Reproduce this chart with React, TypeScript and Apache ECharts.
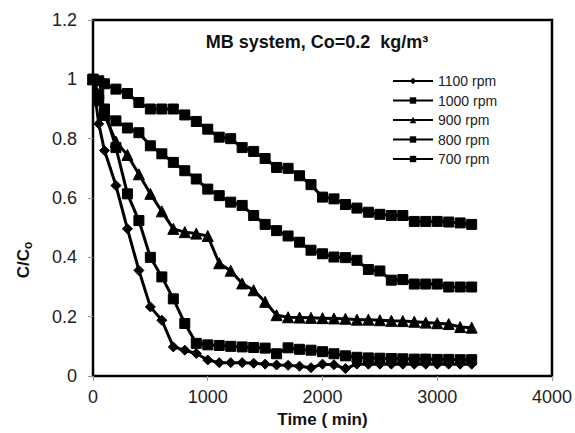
import React, { useEffect, useRef } from "react";
import * as echarts from "echarts";

const times = [0, 50, 100, 200, 300, 400, 500, 600, 700, 800, 900, 1000, 1100, 1200, 1300, 1400, 1500, 1600, 1700, 1800, 1900, 2000, 2100, 2200, 2300, 2400, 2500, 2600, 2700, 2800, 2900, 3000, 3100, 3200, 3300];

const rpm1100 = [1.0, 0.85, 0.76, 0.642, 0.496, 0.356, 0.233, 0.188, 0.098, 0.087, 0.076, 0.054, 0.045, 0.045, 0.045, 0.043, 0.04, 0.037, 0.036, 0.033, 0.028, 0.04, 0.038, 0.025, 0.04, 0.04, 0.04, 0.04, 0.04, 0.04, 0.04, 0.04, 0.04, 0.04, 0.04];
const rpm1000 = [1.0, 0.95, 0.9, 0.77, 0.614, 0.524, 0.4, 0.334, 0.26, 0.177, 0.11, 0.105, 0.103, 0.1, 0.098, 0.096, 0.094, 0.075, 0.095, 0.09, 0.087, 0.082, 0.075, 0.068, 0.063, 0.061, 0.06, 0.059, 0.058, 0.057, 0.057, 0.056, 0.056, 0.055, 0.055];
const rpm900 = [1.0, 0.93, 0.88, 0.79, 0.745, 0.68, 0.614, 0.555, 0.496, 0.485, 0.48, 0.472, 0.38, 0.355, 0.312, 0.289, 0.25, 0.205, 0.198, 0.197, 0.196, 0.195, 0.194, 0.193, 0.19, 0.19, 0.188, 0.186, 0.185, 0.183, 0.18, 0.178, 0.175, 0.165, 0.163];
const rpm800 = [1.0, 0.93, 0.885, 0.86, 0.836, 0.82, 0.776, 0.749, 0.72, 0.692, 0.664, 0.63, 0.608, 0.586, 0.575, 0.541, 0.511, 0.49, 0.472, 0.451, 0.424, 0.412, 0.401, 0.399, 0.39, 0.359, 0.354, 0.323, 0.325, 0.31, 0.31, 0.31, 0.3, 0.3, 0.3];
const rpm700 = [1.0, 0.995, 0.985, 0.967, 0.952, 0.922, 0.9, 0.9, 0.9, 0.88, 0.858, 0.832, 0.805, 0.8, 0.77, 0.757, 0.733, 0.703, 0.7, 0.675, 0.645, 0.603, 0.597, 0.578, 0.566, 0.552, 0.545, 0.541, 0.541, 0.521, 0.521, 0.521, 0.519, 0.516, 0.511];

const seriesNames = ["1100 rpm", "1000 rpm", "900 rpm", "800 rpm", "700 rpm"];
const seriesValues = [rpm1100, rpm1000, rpm900, rpm800, rpm700];
const seriesSymbols = ["diamond", "rect", "triangle", "rect", "rect"];
const seriesSymbolSizes = [10, 10, 11, 10, 10];

const FONT = "'Liberation Sans', Arial, sans-serif";

export default function App() {
  const ref = useRef<HTMLDivElement>(null);
  useEffect(() => {
    if (!ref.current) return;
    const chart = echarts.init(ref.current, undefined, { renderer: "svg" });
    chart.setOption({
      animation: false,
      backgroundColor: "#fff",
      grid: {
        left: 93,
        right: 22,
        top: 20,
        bottom: 57,
        show: true,
        borderColor: "#000",
        borderWidth: 2.5,
        containLabel: false,
      },
      xAxis: {
        type: "value",
        min: 0,
        max: 4000,
        interval: 1000,
        name: "Time ( min)",
        nameLocation: "middle",
        nameGap: 33,
        nameTextStyle: { fontFamily: FONT, fontSize: 17, fontWeight: "bold", color: "#111" },
        axisLine: { show: false },
        axisTick: { show: true, length: 5, lineStyle: { color: "#999", width: 1 } },
        splitLine: { show: false },
        axisLabel: { fontFamily: FONT, fontSize: 18, color: "#222", margin: 12, formatter: (v: number) => String(v) },
      },
      yAxis: {
        type: "value",
        min: 0,
        max: 1.2,
        interval: 0.2,
        axisLine: { show: false },
        axisTick: { show: true, length: 5, lineStyle: { color: "#999", width: 1 } },
        splitLine: { show: false },
        axisLabel: { fontFamily: FONT, fontSize: 18, color: "#222", margin: 16 },
      },
      legend: {
        orient: "vertical",
        left: 387,
        top: 69,
        itemWidth: 40,
        itemHeight: 8,
        itemGap: 5.5,
        textStyle: { fontFamily: FONT, fontSize: 14, color: "#222" },
        data: seriesNames,
      },
      graphic: [
        {
          type: "text",
          x: 317,
          y: 42,
          style: {
            text: "MB system, Co=0.2  kg/m³",
            fontFamily: FONT,
            fontSize: 18,
            fontWeight: "bold",
            fill: "#111",
            align: "center",
            verticalAlign: "middle",
          },
        },
        {
          type: "text",
          x: 23,
          y: 260,
          rotation: Math.PI / 2,
          style: {
            text: "{a|C/C}{b|o}",
            align: "center",
            verticalAlign: "middle",
            rich: {
              a: { fontFamily: FONT, fontSize: 17, fontWeight: "bold", fill: "#111", lineHeight: 22 },
              b: { fontFamily: FONT, fontSize: 12, fontWeight: "bold", fill: "#111", lineHeight: 22, padding: [9, 0, 0, 0] },
            },
          },
        },
      ],
      series: seriesNames.map((name, i) => ({
        name,
        type: "line",
        data: times.map((t, j) => [t, seriesValues[i][j]]),
        symbol: seriesSymbols[i],
        symbolSize: seriesSymbolSizes[i],
        showSymbol: true,
        lineStyle: { color: "#000", width: 3 },
        itemStyle: { color: "#000", borderColor: "#000" },
        z: 10 - i,
      })),
    });
    return () => chart.dispose();
  }, []);
  return <div ref={ref} style={{ width: 575, height: 433, position: "absolute", left: 0, top: 0 }} />;
}
